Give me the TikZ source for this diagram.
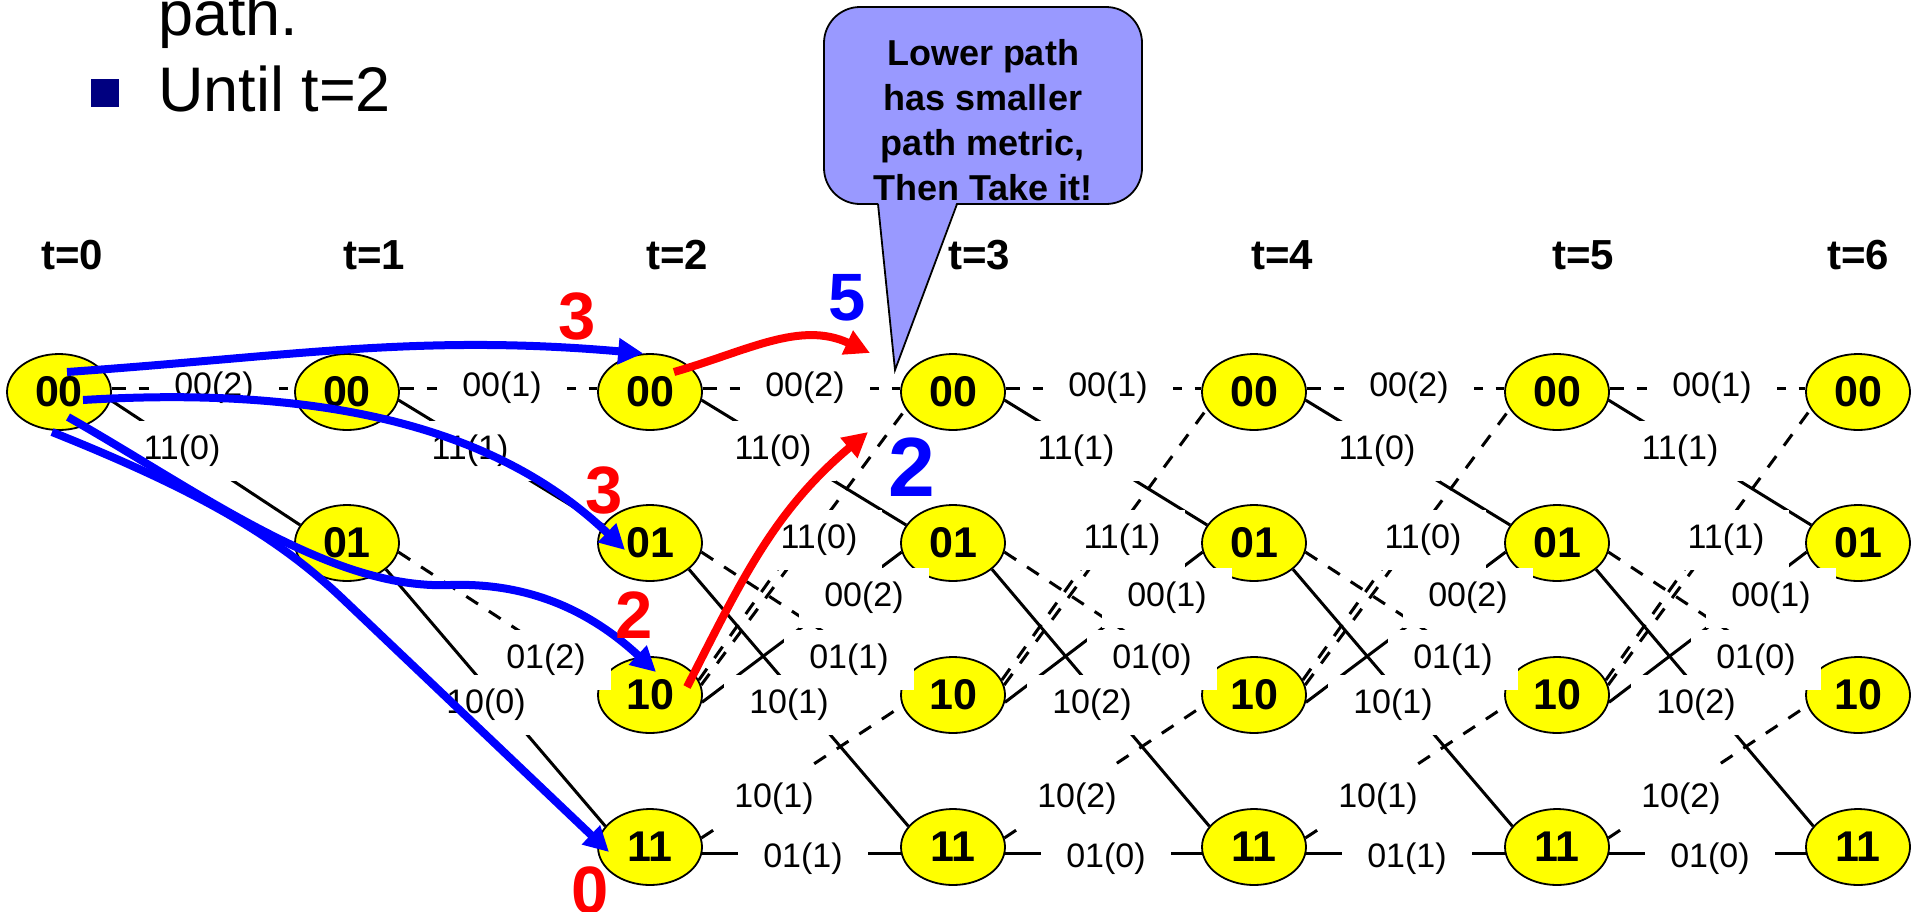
\documentclass[tikz,border=0pt]{standalone}
\usepackage{fontspec}
\setmainfont{Liberation Sans}
\usetikzlibrary{arrows.meta,shapes.geometric}
\definecolor{stateyellow}{RGB}{255,255,0}
\definecolor{calloutfill}{RGB}{153,153,255}
\definecolor{bulletnavy}{RGB}{0,0,128}
\definecolor{pathblue}{RGB}{0,0,255}
\definecolor{pathred}{RGB}{255,0,0}
% edges of one full trellis stage: #1 source column, #2 target column, #3 x of source
\newcommand{\fullstage}[3]{%
  \draw[trd] (A#1.4) -- (A#2.176);
  \draw[trl] (A#1.-9) -- (B#2.159);
  \draw[trd] (B#1.-10) -- (C#2.167);
  \draw[trl] (B#1.-34) -- (D#2.155);
  \draw[trd] (C#1.11) -- (A#2.200);
  \coordinate (X#1) at (#3+144,-546);
  \draw[trd] (C#1.17) -- (X#1);
  \draw[trl] (C#1.-8) -- (B#2.190);
  \draw[trd] (D#1.10) -- (C#2.192);
  \draw[trl] (D#1.-7) -- (D#2.187);
}
% labels of one full stage: #1 x of source, #2..#5 metrics
\newcommand{\fulllabels}[5]{%
  \node[elab] (ta#1) at (#1+155,-388) {00(#2)};
  \node[elab] (tb#1) at (#1+123,-451) {11(#3)};
  \node[elab] (tc#1) at (#1+169,-540) {11(#3)};
  \node[elab] (td#1) at (#1+214,-598) {00(#2)};
  \node[elab] (te#1) at (#1+199,-660) {01(#4)};
  \node[elab] (tf#1) at (#1+139,-705) {10(#5)};
  \node[elab] (tg#1) at (#1+124,-799) {10(#5)};
  \node[elab] (th#1) at (#1+153,-859) {01(#4)};
}
\begin{document}
\begin{tikzpicture}[x=1pt,y=1pt,
  trstate/.style={ellipse, draw=black, line width=1.8pt, fill=stateyellow,
    minimum width=104pt, minimum height=76pt, inner sep=0pt,
    font=\fontsize{43}{43}\selectfont\bfseries},
  elab/.style={fill=white, inner xsep=25pt, inner ysep=14pt,
    font=\fontsize{34}{34}\selectfont},
  trl/.style={line width=3pt, black},
  trd/.style={line width=3pt, black, dash pattern=on 14pt off 13pt},
  tlab/.style={font=\fontsize{42}{42}\selectfont\bfseries, inner sep=0pt},
  barrow/.style={line width=8pt, draw=pathblue, -{Triangle[length=25pt,width=25pt]}},
  rarrow/.style={line width=8pt, draw=pathred, -{Triangle[length=25pt,width=25pt]}},
  metric/.style={font=\fontsize{67}{67}\selectfont\bfseries, inner sep=0pt},
  calltext/.style={font=\fontsize{36}{45}\selectfont\bfseries, align=center, inner sep=0pt},
  header/.style={font=\fontsize{63}{63}\selectfont, inner sep=0pt, anchor=base west},
]
\useasboundingbox (0,0) rectangle (1911,-911);

% header text
\node[header] (hpath) at (158,-35) {path.};
\node[fill=bulletnavy, minimum size=28pt, inner sep=0pt] (bullet) at (105,-93) {};
\node[header] (huntil) at (158,-111) {Until t=2};

% time labels
\node[tlab] (t0) at (72,-255) {t=0};
\node[tlab] (t1) at (374,-255) {t=1};
\node[tlab] (t2) at (677,-255) {t=2};
\node[tlab] (t3) at (979,-255) {t=3};
\node[tlab] (t4) at (1282,-255) {t=4};
\node[tlab] (t5) at (1583,-255) {t=5};
\node[tlab] (t6) at (1858,-255) {t=6};

% states
\foreach \c/\x in {0/59,1/347,2/650,3/953,4/1254,5/1557,6/1858}
  \node[trstate] (A\c) at (\x,-392) {00};
\foreach \c/\x in {1/347,2/650,3/953,4/1254,5/1557,6/1858}
  \node[trstate] (B\c) at (\x,-543) {01};
\foreach \c/\x in {2/650,3/953,4/1254,5/1557,6/1858}
  \node[trstate] (C\c) at (\x,-695) {10};
\foreach \c/\x in {2/650,3/953,4/1254,5/1557,6/1858}
  \node[trstate] (D\c) at (\x,-847) {11};

% trellis edges
\draw[trd] (A0.4) -- (A1.176);
\draw[trl] (A0.-9) -- (B1.159);
\draw[trd] (A1.4) -- (A2.176);
\draw[trl] (A1.-9) -- (B2.159);
\draw[trd] (B1.-10) -- (C2.167);
\draw[trl] (B1.-34) -- (D2.155);
\fullstage{2}{3}{650}
\fullstage{3}{4}{953}
\fullstage{4}{5}{1254}
\fullstage{5}{6}{1557}

% edge labels
\node[elab] (ta59) at (214,-388) {00(2)};
\node[elab] (tb59) at (182,-451) {11(0)};
\node[elab] (ta347) at (502,-388) {00(1)};
\node[elab] (tb347) at (470,-451) {11(1)};
\node[elab] (te347) at (546,-660) {01(2)};
\node[elab] (tf347) at (486,-705) {10(0)};
\fulllabels{650}{2}{0}{1}{1}
\fulllabels{953}{1}{1}{0}{2}
\fulllabels{1254}{2}{0}{1}{1}
\fulllabels{1557}{1}{1}{0}{2}

% survivor paths
\coordinate (b3m) at (450,-585);
\coordinate (b4m) at (344,-600);
\draw[barrow] ([shift={(8,20)}]A0.center) to[out=4,in=175] (A2.100);
\draw[barrow] ([shift={(24,-8)}]A0.center) .. controls (330,-385) and (500,-430) .. ([shift={(-25,-7)}]B2.center);
\draw[barrow] ([shift={(9,-25)}]A0.center) .. controls (200,-492) and (330,-590) .. (b3m)
   .. controls (540,-582) and (600,-620) .. ([shift={(6,23)}]C2.center);
\draw[barrow] ([shift={(-7,-40)}]A0.center) .. controls (202,-492) and (279,-538) .. (b4m)
   -- ([shift={(-41,-5)}]D2.center);
\coordinate (r1end) at (870,-353);
\coordinate (r2end) at (868,-432);
\draw[rarrow] ([shift={(24,20)}]A2.center) to[out=16,in=155] (r1end);
\draw[rarrow] ([shift={(37,8)}]C2.center) to[out=63,in=220] (r2end);

% path metrics
\node[metric, text=pathred] (m3a) at (577,-316) {3};
\node[metric, text=pathred] (m3b) at (604,-490) {3};
\node[metric, text=pathred] (m2a) at (634,-615) {2};
\node[metric, text=pathred] (m0a) at (590,-890) {0};
\node[metric, text=pathblue] (m5a) at (847,-298) {5};
\node[metric, text=pathblue, font=\fontsize{84}{84}\selectfont\bfseries] (m2b) at (912,-467) {2};

% callout
\path[fill=calloutfill, draw=black, line width=1.8pt, rounded corners=36pt] (824,-7) rectangle (1142,-204);
\fill[calloutfill] (878,-201) -- (895,-370) -- (957,-201) -- cycle;
\draw[line width=1.8pt] (878,-204) -- (895,-370) -- (957,-204);
\node[calltext] (ctext) at (983,-120) {Lower path\\has smaller\\path metric,\\Then Take it!};
\end{tikzpicture}
\end{document}
